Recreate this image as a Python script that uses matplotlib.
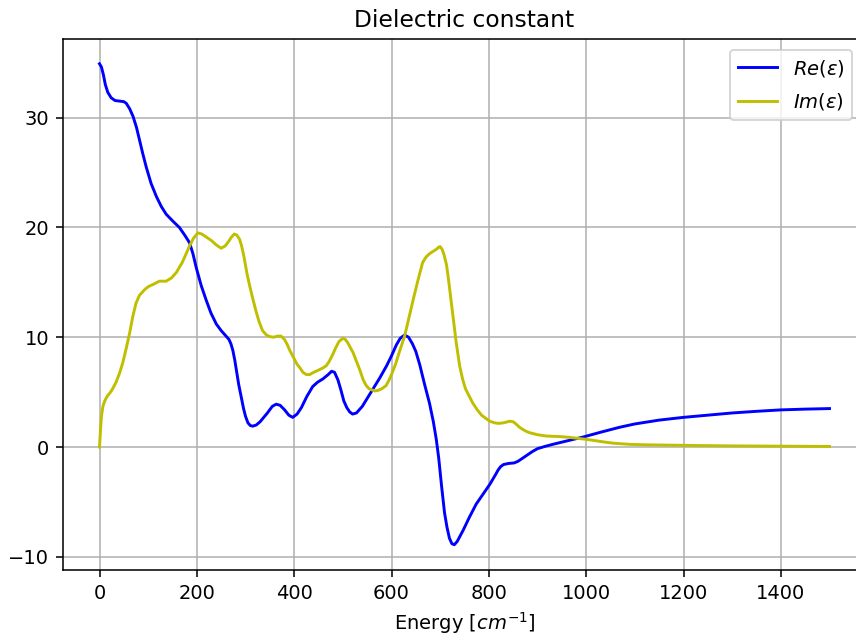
import matplotlib
matplotlib.use("Agg")
import matplotlib.pyplot as plt

re_pts = [(0, 34.9), (4, 34.6), (8, 33.9), (12, 33.0), (17, 32.3), (24, 31.8), (32, 31.55),
          (41, 31.5), (50, 31.45), (55, 31.3), (62, 30.8), (69, 30.1), (76, 29.1), (82, 28.0),
          (89, 26.7), (96, 25.5), (106, 24.0), (117, 22.8), (127, 21.9), (137, 21.2),
          (150, 20.6), (164, 20.0), (175, 19.3), (185, 18.6), (192, 17.6), (199, 16.3),
          (209, 14.7), (219, 13.4), (229, 12.2), (240, 11.2), (250, 10.6), (260, 10.1),
          (266, 9.8), (270, 9.4), (274, 8.8), (278, 7.9), (282, 6.8), (286, 5.7), (291, 4.6),
          (296, 3.5), (300, 2.8), (305, 2.2), (310, 1.95), (315, 1.9), (322, 2.0), (330, 2.3),
          (345, 3.1), (355, 3.7), (363, 3.9), (371, 3.8), (380, 3.4), (389, 2.9), (397, 2.7),
          (406, 3.0), (415, 3.6), (426, 4.6), (438, 5.5), (448, 5.9), (459, 6.2), (470, 6.6),
          (477, 6.9), (483, 6.8), (490, 6.1), (496, 5.2), (502, 4.2), (508, 3.6), (514, 3.2),
          (520, 3.0), (528, 3.1), (540, 3.7), (558, 5.0), (576, 6.3), (590, 7.4), (600, 8.3),
          (610, 9.3), (618, 9.9), (627, 10.2), (635, 10.0), (643, 9.4), (650, 8.7), (658, 7.5),
          (668, 5.7), (678, 4.0), (686, 2.3), (692, 0.7), (697, -1.0), (703, -3.6), (709, -6.0),
          (714, -7.3), (719, -8.3), (724, -8.8), (729, -8.9), (735, -8.6), (747, -7.6),
          (760, -6.4), (774, -5.2), (788, -4.3), (802, -3.4), (808, -2.95), (814, -2.5),
          (819, -2.1), (824, -1.8), (830, -1.6), (840, -1.5), (852, -1.45), (860, -1.3),
          (870, -1.0), (880, -0.7), (890, -0.4), (900, -0.15), (915, 0.05), (932, 0.25),
          (960, 0.55), (993, 0.9), (1030, 1.35), (1069, 1.8), (1100, 2.1), (1150, 2.45),
          (1200, 2.7), (1250, 2.9), (1300, 3.1), (1350, 3.25), (1400, 3.38), (1450, 3.45),
          (1500, 3.5)]

im_pts = [(0, 0.0), (2, 1.5), (4, 2.8), (7, 3.7), (10, 4.1), (13, 4.4), (17, 4.7), (21, 4.9),
          (27, 5.3), (34, 5.9), (41, 6.7), (48, 7.7), (55, 9.0), (62, 10.4), (68, 11.8),
          (75, 13.1), (82, 13.8), (92, 14.3), (100, 14.6), (110, 14.8), (123, 15.1),
          (137, 15.1), (148, 15.4), (158, 15.9), (170, 16.8), (178, 17.6), (185, 18.3),
          (193, 19.0), (202, 19.5), (210, 19.4), (220, 19.1), (230, 18.8), (240, 18.4),
          (250, 18.1), (258, 18.3), (265, 18.7), (271, 19.1), (277, 19.4), (282, 19.3),
          (288, 18.9), (292, 18.3), (297, 17.3), (303, 15.8), (309, 14.6), (315, 13.5),
          (322, 12.3), (328, 11.4), (335, 10.6), (343, 10.2), (350, 10.05), (358, 10.0),
          (366, 10.1), (373, 10.1), (380, 9.8), (385, 9.4), (391, 8.8), (397, 8.3), (405, 7.6),
          (412, 7.2), (418, 6.8), (425, 6.6), (432, 6.6), (440, 6.8), (450, 7.0), (459, 7.2),
          (466, 7.4), (472, 7.8), (479, 8.4), (485, 9.0), (492, 9.6), (500, 9.9), (505, 9.8),
          (510, 9.5), (515, 9.1), (521, 8.6), (528, 7.8), (535, 7.0), (542, 6.1), (548, 5.6),
          (554, 5.3), (560, 5.2), (566, 5.1), (572, 5.15), (580, 5.3), (589, 5.6), (595, 6.1),
          (600, 6.6), (608, 7.5), (615, 8.5), (621, 9.3), (627, 10.1), (636, 11.8),
          (645, 13.5), (655, 15.3), (664, 16.8), (671, 17.3), (678, 17.6), (685, 17.8),
          (692, 18.0), (697, 18.2), (700, 18.25), (704, 18.0), (708, 17.5), (713, 16.6),
          (717, 15.3), (720, 14.2), (724, 12.8), (727, 11.7), (733, 9.5), (740, 7.4),
          (746, 6.2), (752, 5.3), (760, 4.6), (767, 4.0), (776, 3.4), (785, 2.9), (794, 2.6),
          (802, 2.35), (812, 2.2), (820, 2.15), (830, 2.2), (843, 2.35), (850, 2.3),
          (857, 2.05), (863, 1.8), (870, 1.6), (877, 1.42), (884, 1.3), (900, 1.12),
          (918, 1.0), (946, 0.95), (965, 0.88), (980, 0.8), (1000, 0.7), (1030, 0.5),
          (1055, 0.35), (1090, 0.24), (1124, 0.2), (1200, 0.15), (1300, 0.1), (1400, 0.07),
          (1500, 0.05)]

re_x = [p[0] for p in re_pts]
re_y = [p[1] for p in re_pts]
im_x = [p[0] for p in im_pts]
im_y = [p[1] for p in im_pts]

W, H, DPI = 856, 639, 140
fig = plt.figure(figsize=(W / DPI, H / DPI), dpi=DPI)
ax = fig.add_axes([63 / W, 1 - 570 / H, (866 - 63) / W, (570 - 38.5) / H])
ax.plot(re_x, re_y, color='b', label=r'$Re(\epsilon)$')
ax.plot(im_x, im_y, color='y', label=r'$Im(\epsilon)$')
ax.set_xlim(-75, 1575)
ax.set_ylim(-11.2, 37.2)
ax.set_xticks([0, 200, 400, 600, 800, 1000, 1200, 1400])
ax.set_yticks([-10, 0, 10, 20, 30])
ax.grid(True)
ax.set_title('Dielectric constant')
ax.set_xlabel(r'Energy [$cm^{-1}$]')
ax.legend(loc='upper right', bbox_to_anchor=(852 / W, 1 - 50 / H),
          bbox_transform=fig.transFigure, borderaxespad=0, labelspacing=0.65)
fig.savefig('out.png', dpi=DPI)
